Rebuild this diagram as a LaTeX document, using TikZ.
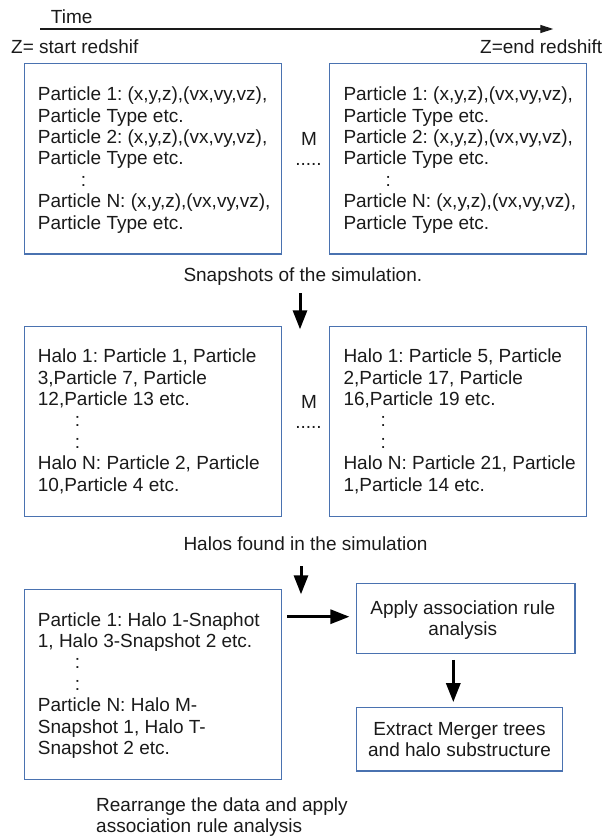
\documentclass[tikz,border=0pt]{standalone}
\usepackage{fontspec}
\setmainfont{Liberation Sans}
\usetikzlibrary{arrows.meta}
\frenchspacing
\definecolor{boxblue}{RGB}{74,114,176}
\definecolor{ink}{RGB}{26,26,26}
\newcommand\leftlines[1]{\vtop{\baselineskip=21.4pt\lineskip=0pt\lineskiplimit=-100pt\halign{##\hfil\cr#1\crcr}}}
\newcommand\midlines[1]{\vtop{\baselineskip=21.4pt\lineskip=0pt\lineskiplimit=-100pt\halign{\hfil##\hfil\cr#1\crcr}}}
\tikzset{
  box/.style={draw=boxblue, line width=1.1pt, rectangle, inner sep=0pt},
  txt/.style={anchor=base west, inner sep=0pt},
  ctxt/.style={anchor=base, inner sep=0pt},
  bigarrow/.style={draw=black, line width=3pt, -{Triangle[length=19pt,width=14pt]}},
  timearrow/.style={draw=ink, line width=1.1pt, -{Triangle[length=13pt,width=8pt]}}
}
\begin{document}
\begin{tikzpicture}[x=1pt,y=-1pt, font=\fontsize{19pt}{21.4pt}\selectfont\frenchspacing, text=ink]
\useasboundingbox (0,0) rectangle (605,836);
% time axis
\node[txt] (time) at (50.7,23.3) {Time};
\coordinate (t0) at (40,29);
\coordinate (t1) at (553.3,29);
\draw[timearrow] (t0) -- (t1);
\node[txt] (zstart) at (11,53.3) {Z= start redshif};
\node[txt] (zend) at (480,53.3) {Z=end redshift};
% snapshot boxes
\node[box, minimum width=257.4pt, minimum height=190.7pt] (snapL) at (153,158.65) {};
\node[box, minimum width=257.4pt, minimum height=190.7pt] (snapR) at (458,158.65) {};
\node[txt] (snapLt) at (37.7,100.7) {\leftlines{Particle 1: (x,y,z),(vx,vy,vz),\cr Particle Type etc.\cr Particle 2: (x,y,z),(vx,vy,vz),\cr Particle Type etc.\cr \kern43pt:\cr Particle N: (x,y,z),(vx,vy,vz),\cr Particle Type etc.\cr}};
\node[txt] (snapRt) at (343.3,100.7) {\leftlines{Particle 1: (x,y,z),(vx,vy,vz),\cr Particle Type etc.\cr Particle 2: (x,y,z),(vx,vy,vz),\cr Particle Type etc.\cr \kern42pt:\cr Particle N: (x,y,z),(vx,vy,vz),\cr Particle Type etc.\cr}};
\node[ctxt] (m1) at (309,145) {M};
\node[ctxt] (d1) at (308.5,165.7) {.....};
\node[txt] (snapcap) at (183.3,281) {Snapshots of the simulation.};
\coordinate (a1s) at (300,293.3);
\coordinate (a1e) at (300,329.3);
\draw[bigarrow] (a1s) -- (a1e);
% halo boxes
\node[box, minimum width=257.4pt, minimum height=190pt] (haloL) at (153,421.7) {};
\node[box, minimum width=257.4pt, minimum height=190pt] (haloR) at (458,421.7) {};
\node[txt] (haloLt) at (37.7,362.7) {\leftlines{Halo 1: Particle 1, Particle\cr 3,Particle 7, Particle\cr 12,Particle 13 etc.\cr \kern37pt:\cr \kern37pt:\cr Halo N: Particle 2, Particle\cr 10,Particle 4 etc.\cr}};
\node[txt] (haloRt) at (343.3,362.7) {\leftlines{Halo 1: Particle 5, Particle\cr 2,Particle 17, Particle\cr 16,Particle 19 etc.\cr \kern37pt:\cr \kern37pt:\cr Halo N: Particle 21, Particle\cr 1,Particle 14 etc.\cr}};
\node[ctxt] (m2) at (309,408.3) {M};
\node[ctxt] (d2) at (308.5,428.3) {.....};
\node[txt] (halocap) at (183.3,550) {Halos found in the simulation};
\coordinate (a2s) at (301,566);
\coordinate (a2e) at (301,594.3);
\draw[bigarrow] (a2s) -- (a2e);
% rearranged data
\node[box, minimum width=257.4pt, minimum height=190pt] (rearr) at (153,684.3) {};
\node[txt] (rearrt) at (37.7,626) {\leftlines{Particle 1: Halo 1-Snaphot\cr 1, Halo 3-Snapshot 2 etc.\cr \kern37pt:\cr \kern37pt:\cr Particle N: Halo M-\cr Snapshot 1, Halo T-\cr Snapshot 2 etc.\cr}};
\node[txt] (rearrcap) at (96,811) {\leftlines{Rearrange the data and apply\cr association rule analysis\cr}};
% analysis boxes
\node[box, minimum width=218.3pt, minimum height=70pt] (apply) at (465.85,618.3) {};
\node[ctxt] (applyt) at (462.8,614.3) {\midlines{Apply association rule\cr analysis\cr}};
\node[box, minimum width=206pt, minimum height=63.3pt] (extract) at (459.7,739.35) {};
\node[ctxt] (extractt) at (459.5,735.3) {\midlines{Extract Merger trees\cr and halo substructure\cr}};
\coordinate (h1s) at (287.3,616.7);
\draw[bigarrow, shorten >=6.7pt] (h1s) -- (apply.west |- h1s);
\draw[bigarrow, shorten <=6pt, shorten >=5pt] ([xshift=-12.55pt]apply.south) -- ([xshift=-6.4pt]extract.north);
\end{tikzpicture}
\end{document}
